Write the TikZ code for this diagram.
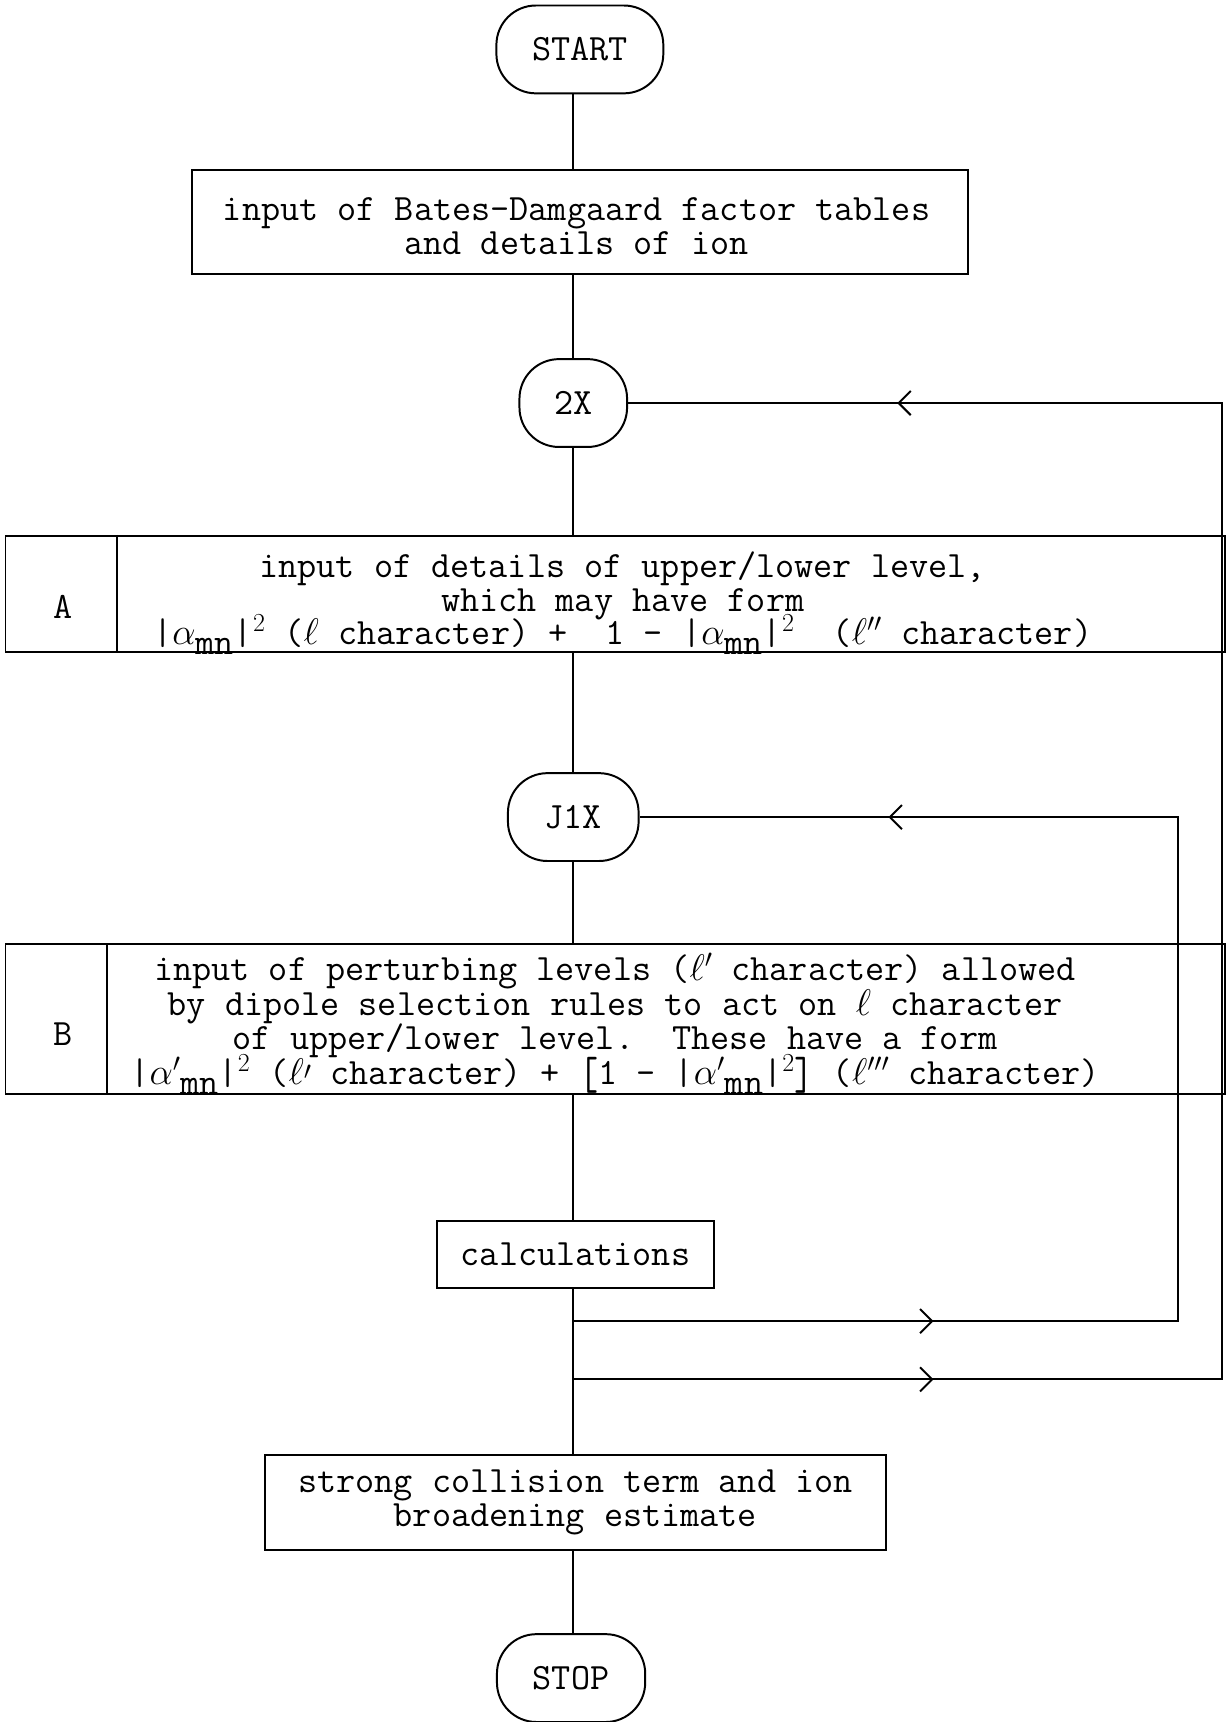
\RequirePackage{fix-cm}
\documentclass[tikz,border=0pt]{standalone}
\usepackage{amsmath}
\usetikzlibrary{arrows.meta,decorations.markings}

\newcommand{\flowfont}{\fontsize{33.8}{30.5}\selectfont\ttfamily\lineskiplimit=-40pt}
\newcommand{\flowfontb}{\fontsize{33.8}{31.5}\selectfont\ttfamily\lineskiplimit=-40pt}
\newcommand{\mn}{\raisebox{-0.6ex}{mn}}
\newcommand{\tallbr}[1]{\raisebox{-0.12em}{\scalebox{1}[1.25]{#1}}}

\begin{document}
\begin{tikzpicture}[x=1pt,y=-1pt,line width=1.8pt,
  term/.style={draw, rounded corners=36pt, minimum height=80pt, inner sep=0pt, font=\flowfont},
  box/.style={draw, align=center, inner sep=0pt, font=\flowfont},
  frame/.style={draw, inner sep=0pt},
  txt/.style={align=center, inner sep=0pt, font=\flowfont},
  backarrows/.style 2 args={postaction={decorate,decoration={markings,
    mark=at position #1 with {\arrow{Straight Barb[length=11pt,width=22pt]}},
    mark=at position #2 with {\arrow{Straight Barb[length=11pt,width=22pt]}}}}}]
\useasboundingbox (0,0) rectangle (1119,1568);

\node [term, minimum width=152pt] (start) at (528,45) {START};
\node [frame, minimum width=706pt, minimum height=95pt] (info) at (528,202) {};
\node [txt] (tinfo) at (525,206)
  {input of Bates-Damgaard factor tables\\and details of ion};
\node [term, minimum width=98pt] (x2) at (522,367) {2X};

% box A
\node [frame, minimum width=1110pt, minimum height=106pt] (a) at (560,541) {};
\draw ([xshift=102pt]a.north west) -- ([xshift=102pt]a.south west);
\node [txt] (la) at (57,553) {A};
\node [txt] (ta) at (567,549)
  {input of details of upper/lower level,\\which may have form\\
   |$\alpha$\mn|$^2$ ($\ell$ character) +~~1~-~|$\alpha$\mn|$^2$~~($\ell''$ character)};

\node [term, minimum width=119pt] (j1x) at (522,744) {J1X};

% box B
\node [frame, minimum width=1110pt, minimum height=136pt] (b) at (560,928) {};
\draw ([xshift=93pt]b.north west) -- ([xshift=93pt]b.south west);
\node [txt] (lb) at (57,942) {B};
\node [txt, font=\flowfontb] (tb) at (560,932)
  {input of perturbing levels ($\ell'$ character) allowed\\
   by dipole selection rules to act on $\ell$ character\\
   of upper/lower level.~~These have a form\\
   |$\alpha'$\mn|$^2$ ($\ell$\raisebox{-0.5ex}{$'$} character) +~\tallbr{[}1~-~|$\alpha'$\mn|$^2$\tallbr{]}~($\ell'''$ character)};

\node [box, minimum width=253pt, minimum height=61pt] (calc) at (524,1142) {calculations};
\coordinate (c1) at (522,1203);
\coordinate (c2) at (522,1256);
\coordinate (r1) at (1073,1203);
\coordinate (r2) at (1113,1256);

\node [box, minimum width=565pt, minimum height=87pt] (sc) at (524,1368)
  {strong collision term and ion\\broadening estimate};
\node [term, minimum width=135pt] (stop) at (520,1528) {STOP};

% main line
\draw (start.south -| x2) -- (x2 |- info.north);
\draw (info.south -| x2) -- (x2);
\draw (x2) -- (x2 |- a.north);
\draw (a.south -| j1x) -- (j1x);
\draw (j1x) -- (j1x |- b.north);
\draw (b.south -| j1x) -- (j1x |- calc.north);
\draw (calc.south -| c1) -- (c1 |- sc.north);
\draw (sc.south -| c1) -- (c1 |- stop.north);

% loops back
\draw [backarrows={328pt}{1274pt}] (c1) -- (r1) |- (j1x);
\draw [backarrows={328pt}{1776pt}] (c2) -- (r2) |- (x2);
\end{tikzpicture}
\end{document}
